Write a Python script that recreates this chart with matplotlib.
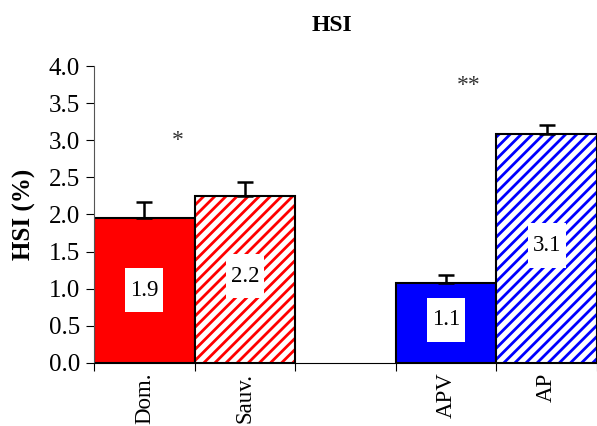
import matplotlib.pyplot as plt
from matplotlib.patches import Rectangle

plt.rcParams['font.family'] = ['Liberation Serif', 'DejaVu Serif']

categories = ['Dom.', 'Sauv.', '', 'APV', 'AP']
values = [1.95, 2.25, None, 1.08, 3.08]
errors = [0.22, 0.19, None, 0.11, 0.13]
labels = ['1.9', '2.2', '', '1.1', '3.1']
label_y = [0.98, 1.17, None, 0.58, 1.58]
colors = ['#ff0000', '#ff0000', None, '#0000ff', '#0000ff']
hatches = ['', '///', None, '', '///']
stars = [(0.33, '*', 3.0), (3.22, '**', 3.74)]


def plot_chart():
    plt.rcParams['hatch.linewidth'] = 2.0
    fig = plt.figure(figsize=(5.97, 4.26), dpi=100)
    ax = fig.add_axes([0.1575, 0.148, 0.8425, 0.697])

    for i, v in enumerate(values):
        if v is None:
            continue
        if hatches[i]:
            ax.bar(i, v, width=1.0, color='white', edgecolor=colors[i],
                   hatch=hatches[i], linewidth=0)
            ax.bar(i, v, width=1.0, color='none', edgecolor='black', linewidth=1.5)
        else:
            ax.bar(i, v, width=1.0, color=colors[i], edgecolor='black', linewidth=1.5)
        ax.errorbar(i, v, yerr=[[0], [errors[i]]], color='black',
                    capsize=6, elinewidth=1.8, capthick=1.8, fmt='none')
        # white label box, a bit taller than wide
        ax.add_patch(Rectangle((i - 0.19, label_y[i] - 0.3), 0.38, 0.6,
                               facecolor='white', edgecolor='none', zorder=3))
        ax.text(i, label_y[i], labels[i], ha='center', va='center',
                fontsize=16.5, zorder=4)

    for x, s, y in stars:
        ax.text(x, y, s, ha='center', va='center', fontsize=17, color='#333333')

    ax.set_xlim(-0.5, 4.5)
    ax.set_ylim(0, 4.0)
    ax.set_yticks([0.0, 0.5, 1.0, 1.5, 2.0, 2.5, 3.0, 3.5, 4.0])
    ax.set_yticklabels([f'{t:.1f}' for t in ax.get_yticks()], fontsize=18)
    ax.set_xticks([-0.5, 0.5, 1.5, 2.5, 3.5, 4.5])
    ax.set_xticklabels([])
    ax.set_xticks(range(len(categories)), minor=True)
    ax.set_xticklabels(categories, minor=True, rotation=90, fontsize=16.5)
    ax.tick_params(axis='x', which='minor', length=0, pad=7)
    ax.tick_params(axis='x', which='major', length=6, direction='out')
    ax.tick_params(axis='y', length=6, direction='out', pad=4)

    ax.spines['top'].set_visible(False)
    ax.spines['right'].set_visible(False)
    ax.spines['left'].set_color('#555555')

    ax.set_ylabel('HSI (%)', fontsize=18, fontweight='bold', labelpad=9)
    fig.text(0.556, 0.94, 'HSI', ha='center', va='center', fontsize=17, fontweight='bold')

    fig.savefig('out.png', dpi=100)


if __name__ == "__main__":
    plot_chart()
